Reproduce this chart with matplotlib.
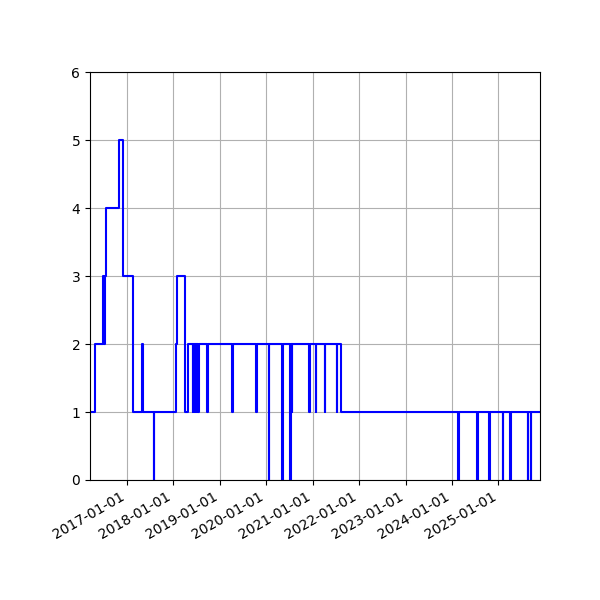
import matplotlib
matplotlib.use("Agg")
import matplotlib.pyplot as plt
import matplotlib.dates as mdates
import pandas as pd

dates = [
    "2016-03-15", "2016-04-25", "2016-06-29", "2016-07-06", "2016-07-10", "2016-07-20",
    "2016-10-27", "2016-11-27", "2017-02-15", "2017-04-28", "2017-05-08",
    "2017-07-30", "2017-08-04", "2018-01-19", "2018-02-01", "2018-03-30", "2018-04-25",
    "2018-06-01", "2018-06-04", "2018-06-19", "2018-06-22", "2018-07-02", "2018-07-05",
    "2018-07-15", "2018-07-18", "2018-09-24", "2018-09-27", "2019-04-09", "2019-04-12",
    "2019-10-15", "2019-10-18", "2020-01-22", "2020-01-26", "2020-05-05", "2020-05-08",
    "2020-07-07", "2020-07-10", "2020-07-22", "2020-07-25", "2020-12-05", "2020-12-08",
    "2021-01-25", "2021-01-28", "2021-04-08", "2021-04-11", "2021-07-08", "2021-07-11",
    "2021-08-09", "2024-02-21", "2024-02-25", "2024-07-14", "2024-07-28", "2024-10-20",
    "2024-10-23", "2025-02-02", "2025-02-05", "2025-04-04", "2025-04-07", "2025-08-18",
    "2025-08-21", "2025-09-13", "2025-09-16", "2025-11-24",
]
values = [
    1, 2, 3, 2, 3, 4,
    5, 3, 1, 2, 1,
    0, 1, 2, 3, 1, 2,
    1, 2, 1, 2, 1, 2,
    1, 2, 1, 2, 1, 2,
    1, 2, 0, 2, 0, 2,
    0, 2, 1, 2, 1, 2,
    1, 2, 1, 2, 1, 2,
    1, 0, 1, 0, 1, 0,
    1, 0, 1, 0, 1, 0,
    1, 0, 1, 1,
]

x = pd.to_datetime(dates)
fig, ax = plt.subplots(figsize=(6, 6), dpi=100)
fig.subplots_adjust(left=0.15, right=0.9, top=0.88, bottom=0.2)
ax.plot(x, values, color="blue", drawstyle="steps-post", linewidth=1.5)
ax.set_ylim(0, 6)
ax.set_xlim(x[0], x[-1])
ax.xaxis.set_major_locator(mdates.YearLocator())
ax.xaxis.set_major_formatter(mdates.DateFormatter("%Y-%m-%d"))
ax.grid(True)
fig.autofmt_xdate()
fig.savefig("out.png")
